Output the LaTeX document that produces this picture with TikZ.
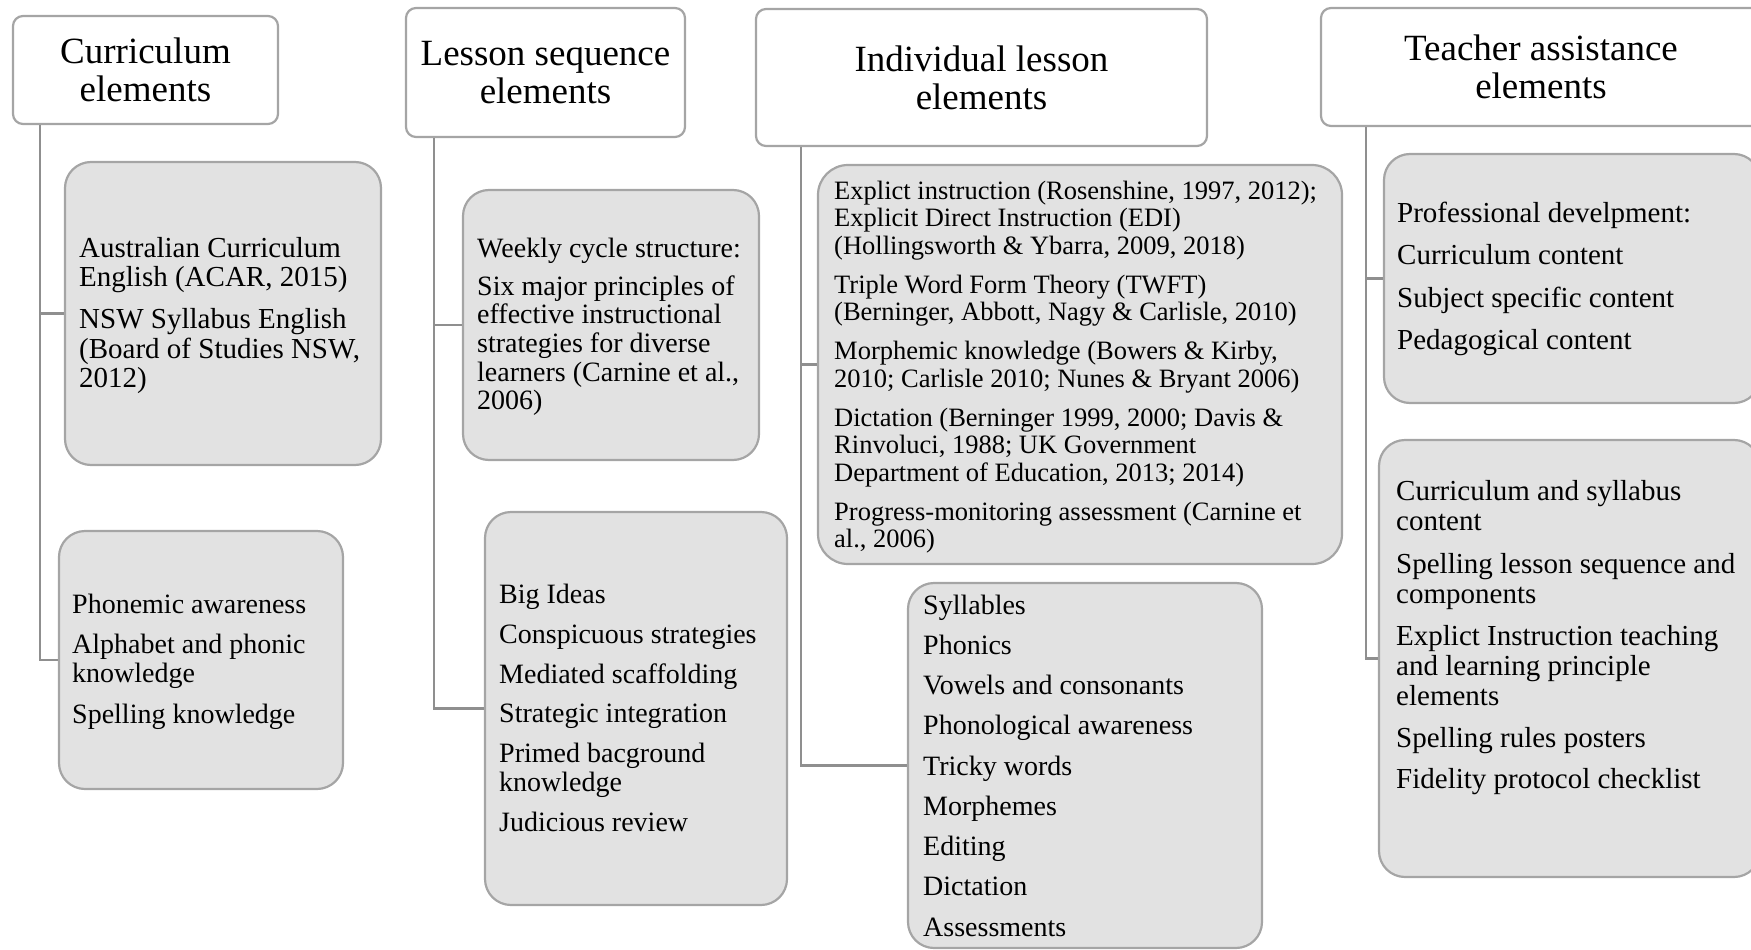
\documentclass[tikz,border=0pt]{standalone}
\usepackage{fontspec}
\setmainfont{Liberation Serif}
\definecolor{boxfill}{HTML}{E2E2E2}
\definecolor{boxline}{HTML}{A5A5A5}
\definecolor{connline}{HTML}{8F8F8F}
\newcommand\fst{\rule{0pt}{1em}}
\begin{document}
\begin{tikzpicture}[x=1pt,y=-1pt,
  hdr/.style={draw=boxline, line width=2.2pt, fill=white, rounded corners=10pt,
    inner sep=0pt, align=center, font=\fontsize{37}{38}\selectfont},
  bx/.style={draw=boxline, line width=2.2pt, fill=boxfill, rounded corners=26pt, inner sep=0pt},
  txt/.style={anchor=north west, inner sep=0pt, align=left},
  conn/.style={draw=connline, line width=2.4pt}]
\useasboundingbox (0,0) rectangle (1751,950);
\clip (0,0) rectangle (1751,950);

% trunk coordinates
\coordinate (k1) at (40,0);
\coordinate (k2) at (434,0);
\coordinate (k3) at (801,0);
\coordinate (k4) at (1366,0);

% headers
\node[hdr, minimum width=265pt, minimum height=108pt] (h1) at (145.5,70) {Curriculum\\elements};
\node[hdr, minimum width=279pt, minimum height=129pt] (h2) at (545.5,72.5) {Lesson sequence\\elements};
\node[hdr, minimum width=451pt, minimum height=137pt] (h3) at (981.5,77.5) {Individual lesson\\elements};
\node[hdr, minimum width=440pt, minimum height=118pt] (h4) at (1541,67) {Teacher assistance\\elements};

% boxes
\node[bx, minimum width=316pt, minimum height=303pt] (c1) at (223,313.5) {};
\node[bx, minimum width=284pt, minimum height=258pt] (c2) at (201,660) {};
\node[bx, minimum width=296pt, minimum height=270pt] (l1) at (611,325) {};
\node[bx, minimum width=302pt, minimum height=393pt] (l2) at (636,708.5) {};
\node[bx, minimum width=524pt, minimum height=399pt, rounded corners=30pt] (i1) at (1080,364.5) {};
\node[bx, minimum width=354pt, minimum height=365pt] (i2) at (1085,765.5) {};
\node[bx, minimum width=376pt, minimum height=249pt] (t1) at (1572,278.5) {};
\node[bx, minimum width=381pt, minimum height=437pt] (t2) at (1569.5,658.5) {};

% connectors
\draw[conn] (h1.south -| k1) -- (c2.west -| k1) -- (c2.west);
\draw[conn] (c1.west -| k1) -- (c1.west);
\draw[conn] (h2.south -| k2) -- (l2.west -| k2) -- (l2.west);
\draw[conn] (l1.west -| k2) -- (l1.west);
\draw[conn] (h3.south -| k3) -- (i2.west -| k3) -- (i2.west);
\draw[conn] (i1.west -| k3) -- (i1.west);
\draw[conn] (h4.south -| k4) -- (t2.west -| k4) -- (t2.west);
\draw[conn] (t1.west -| k4) -- (t1.west);

% texts
\node[txt, font=\fontsize{29}{29.5}\selectfont] (c1t) at (79,228)
  {\fst Australian Curriculum\\English (ACAR, 2015)\\[12.5pt]NSW Syllabus English\\(Board of Studies NSW,\\2012)};
\node[txt, font=\fontsize{28}{29}\selectfont] (c2t) at (72,585)
  {\fst Phonemic awareness\\[11pt]Alphabet and phonic\\knowledge\\[12pt]Spelling knowledge};
\node[txt, font=\fontsize{28}{28.6}\selectfont] (l1t) at (477,229)
  {\fst Weekly cycle structure:\\[9.5pt]Six major principles of\\effective instructional\\strategies for diverse\\learners (Carnine et al.,\\2006)};
\node[txt, font=\fontsize{28}{29}\selectfont] (l2t) at (499,575)
  {\fst Big Ideas\\[11pt]Conspicuous strategies\\[11pt]Mediated scaffolding\\[10pt]Strategic integration\\[11pt]Primed bacground\\knowledge\\[11pt]Judicious review};
\node[txt, font=\fontsize{26.5}{27.5}\selectfont] (i1t) at (834,172.5)
  {\fst Explict instruction (Rosenshine, 1997, 2012);\\Explicit Direct Instruction (EDI)\\(Hollingsworth \& Ybarra, 2009, 2018)\\[11.5pt]Triple Word Form Theory (TWFT)\\(Berninger, Abbott, Nagy \& Carlisle, 2010)\\[11.5pt]Morphemic knowledge (Bowers \& Kirby,\\2010; Carlisle 2010; Nunes \& Bryant 2006)\\[11.5pt]Dictation (Berninger 1999, 2000; Davis \&\\Rinvoluci, 1988; UK Government\\Department of Education, 2013; 2014)\\[11.5pt]Progress-monitoring assessment (Carnine et\\al., 2006)};
\node[txt, font=\fontsize{28}{40.25}\selectfont] (i2t) at (923,586)
  {\fst Syllables\\Phonics\\Vowels and consonants\\Phonological awareness\\Tricky words\\Morphemes\\Editing\\Dictation\\Assessments};
\node[txt, font=\fontsize{29}{30}\selectfont] (t1t) at (1397,193)
  {\fst Professional develpment:\\[12.5pt]Curriculum content\\[12.5pt]Subject specific content\\[12.5pt]Pedagogical content};
\node[txt, font=\fontsize{29}{30}\selectfont] (t2t) at (1396,471)
  {\fst Curriculum and syllabus\\content\\[13pt]Spelling lesson sequence and\\components\\[12pt]Explict Instruction teaching\\and learning principle\\elements\\[12pt]Spelling rules posters\\[11pt]Fidelity protocol checklist};
\end{tikzpicture}
\end{document}
